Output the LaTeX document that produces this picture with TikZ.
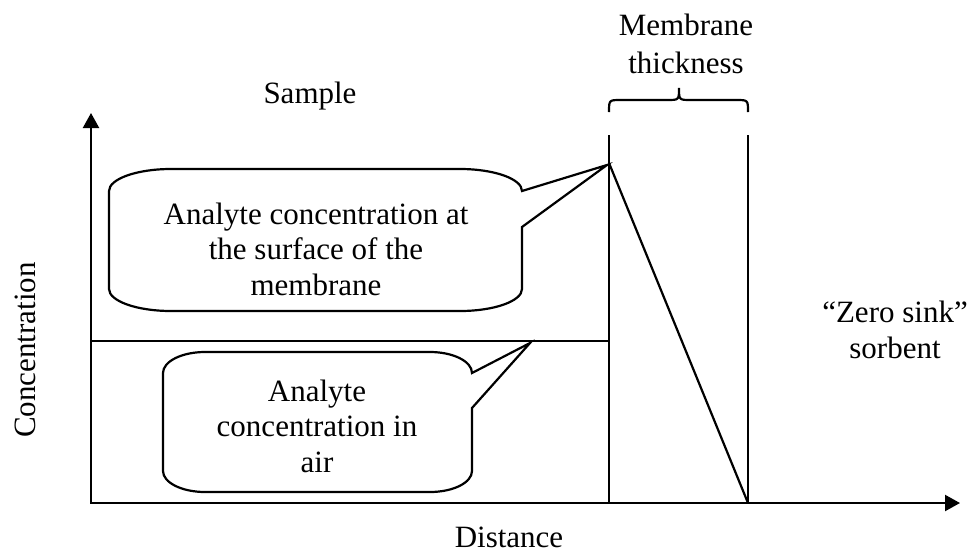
\documentclass[tikz,border=0pt]{standalone}
\usepackage{fontspec}
\setmainfont{Liberation Serif}
\usetikzlibrary{arrows.meta}
\begin{document}
\begin{tikzpicture}[x=1pt,y=-1pt,line width=2.2pt,
  lbl/.style={font=\fontsize{31}{35.5}\selectfont,inner sep=0pt,align=center},
  axisline/.style={{Triangle[length=15pt,width=16pt]}-{Triangle[length=15pt,width=16pt]}},
  bubble/.style={draw,fill=white,line width=2.2pt}]
\useasboundingbox (0,0) rectangle (971,552);

% axes
\coordinate (O) at (91,503);
\coordinate (ytip) at (91,113);
\coordinate (xtip) at (960,503);
\draw[axisline] (ytip) -- (O) -- (xtip);

% membrane walls and profile
\coordinate (mLtop) at (609,135);
\coordinate (mLbot) at (609,503);
\coordinate (mRtop) at (748,135);
\coordinate (mRbot) at (748,503);
\coordinate (peak) at (609,163);
\draw (mLtop) -- (mLbot);
\draw (mRtop) -- (mRbot);
\draw (peak) -- (mRbot);

% concentration in air
\coordinate (airL) at (91,341);
\coordinate (airR) at (609,341);
\draw (airL) -- (airR);

% brace over the membrane
\draw (609,112) .. controls (609,100) .. (621,100) -- (667,100)
      .. controls (679,100) .. (679,88)
      .. controls (679,100) .. (691,100) -- (736,100)
      .. controls (748,100) .. (748,112);

% callout: surface concentration
\coordinate (tip1) at (607,165);
\draw[bubble] (171,169) -- (460,169)
  .. controls (494.2,169) and (522,178.9) .. (522,191)
  -- (tip1) -- (522,227) -- (522,289)
  .. controls (522,301.1) and (494.2,311) .. (460,311)
  -- (171,311)
  .. controls (136.8,311) and (109,301.1) .. (109,289)
  -- (109,191)
  .. controls (109,178.9) and (136.8,169) .. (171,169) -- cycle;
\node[lbl] (surf) at (316,249) {Analyte concentration at\\the surface of the\\membrane};

% callout: air concentration
\coordinate (tip2) at (530,343);
\draw[bubble] (205,352) -- (430,352)
  .. controls (453.2,352) and (472,361.4) .. (472,373)
  -- (tip2) -- (472,408) -- (472,471)
  .. controls (472,482.6) and (453.2,492) .. (430,492)
  -- (205,492)
  .. controls (181.8,492) and (163,482.6) .. (163,471)
  -- (163,373)
  .. controls (163,361.4) and (181.8,352) .. (205,352) -- cycle;
\node[lbl] (air) at (317,426) {Analyte\\concentration in\\air};

% labels
\node[lbl,anchor=base] (sample) at (310,103) {Sample};
\node[lbl,font=\fontsize{31}{38}\selectfont] (thick) at (686,44) {Membrane\\thickness};
\node[lbl] (sink) at (895,330) {“Zero sink”\\sorbent};
\node[lbl,anchor=base] (dist) at (509,547) {Distance};
\node[lbl,anchor=base,rotate=90] (conc) at (35,350) {Concentration};
\end{tikzpicture}
\end{document}
